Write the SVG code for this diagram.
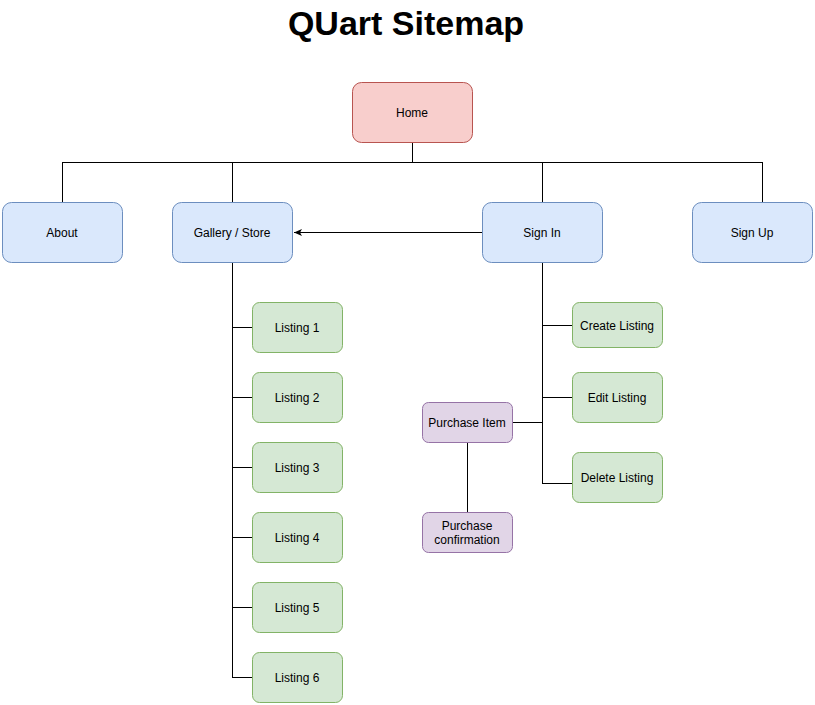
<svg xmlns="http://www.w3.org/2000/svg" width="815" height="705" viewBox="0 0 815 705">
<defs>
<style>
text{font-family:"Liberation Sans",Arial,Helvetica,sans-serif;font-size:12px;fill:#000;text-anchor:middle;dominant-baseline:central}
.title{font-size:34px;font-weight:bold;dominant-baseline:auto}
.red{fill:#f8cecc;stroke:#b85450}
.blue{fill:#dae8fc;stroke:#6c8ebf}
.green{fill:#d5e8d4;stroke:#82b366}
.purple{fill:#e1d5e7;stroke:#9673a6}
.e{fill:none;stroke:#000;stroke-width:1}
</style>
<marker id="arr" markerWidth="10" markerHeight="10" refX="8" refY="5" orient="auto" markerUnits="userSpaceOnUse">
<path d="M0,1.5 L8,5 L0,8.5 L2,5 Z" fill="#000"/>
</marker>
</defs>
<rect width="815" height="705" fill="#fff"/>
<text class="title" x="406" y="35">QUart Sitemap</text>
<g id="edges">
<path class="e" d="M412.5,142 V162.5 M62,162.5 H763 M62.5,162 V202 M232.5,162 V202 M542.5,162 V202 M762.5,162 V202"/>
<path class="e" d="M482,232.5 H294" marker-end="url(#arr)"/>
<path class="e" d="M232.5,262 V677 M232,327.5 H252 M232,397.5 H252 M232,467.5 H252 M232,537.5 H252 M232,607.5 H252 M232,677.5 H252"/>
<path class="e" d="M542.5,262 V483 M542,325.5 H572 M542,397.5 H572 M542,483.5 H572 M512,422.5 H542 M467.5,442 V512"/>
</g>
<g id="home"><rect class="red" x="352.5" y="82.5" width="120" height="60" rx="9"/><text x="412" y="113">Home</text></g>
<g id="about"><rect class="blue" x="2.5" y="202.5" width="120" height="60" rx="9"/><text x="62" y="233">About</text></g>
<g id="gallery"><rect class="blue" x="172.5" y="202.5" width="120" height="60" rx="9"/><text x="232" y="233">Gallery / Store</text></g>
<g id="signin"><rect class="blue" x="482.5" y="202.5" width="120" height="60" rx="9"/><text x="542" y="233">Sign In</text></g>
<g id="signup"><rect class="blue" x="692.5" y="202.5" width="120" height="60" rx="9"/><text x="752" y="233">Sign Up</text></g>
<g id="listing1"><rect class="green" x="252.5" y="302.5" width="90" height="50" rx="7"/><text x="297" y="328">Listing 1</text></g>
<g id="listing2"><rect class="green" x="252.5" y="372.5" width="90" height="50" rx="7"/><text x="297" y="398">Listing 2</text></g>
<g id="listing3"><rect class="green" x="252.5" y="442.5" width="90" height="50" rx="7"/><text x="297" y="468">Listing 3</text></g>
<g id="listing4"><rect class="green" x="252.5" y="512.5" width="90" height="50" rx="7"/><text x="297" y="538">Listing 4</text></g>
<g id="listing5"><rect class="green" x="252.5" y="582.5" width="90" height="50" rx="7"/><text x="297" y="608">Listing 5</text></g>
<g id="listing6"><rect class="green" x="252.5" y="652.5" width="90" height="50" rx="7"/><text x="297" y="678">Listing 6</text></g>
<g id="create"><rect class="green" x="572.5" y="302.5" width="90" height="45" rx="7"/><text x="617" y="326">Create Listing</text></g>
<g id="edit"><rect class="green" x="572.5" y="372.5" width="90" height="50" rx="7"/><text x="617" y="398">Edit Listing</text></g>
<g id="delete"><rect class="green" x="572.5" y="452.5" width="90" height="50" rx="7"/><text x="617" y="478">Delete Listing</text></g>
<g id="purchase"><rect class="purple" x="422.5" y="402.5" width="90" height="40" rx="6"/><text x="467" y="423">Purchase Item</text></g>
<g id="confirm"><rect class="purple" x="422.5" y="512.5" width="90" height="40" rx="6"/><text x="467" y="526">Purchase</text><text x="467" y="540">confirmation</text></g>
</svg>
